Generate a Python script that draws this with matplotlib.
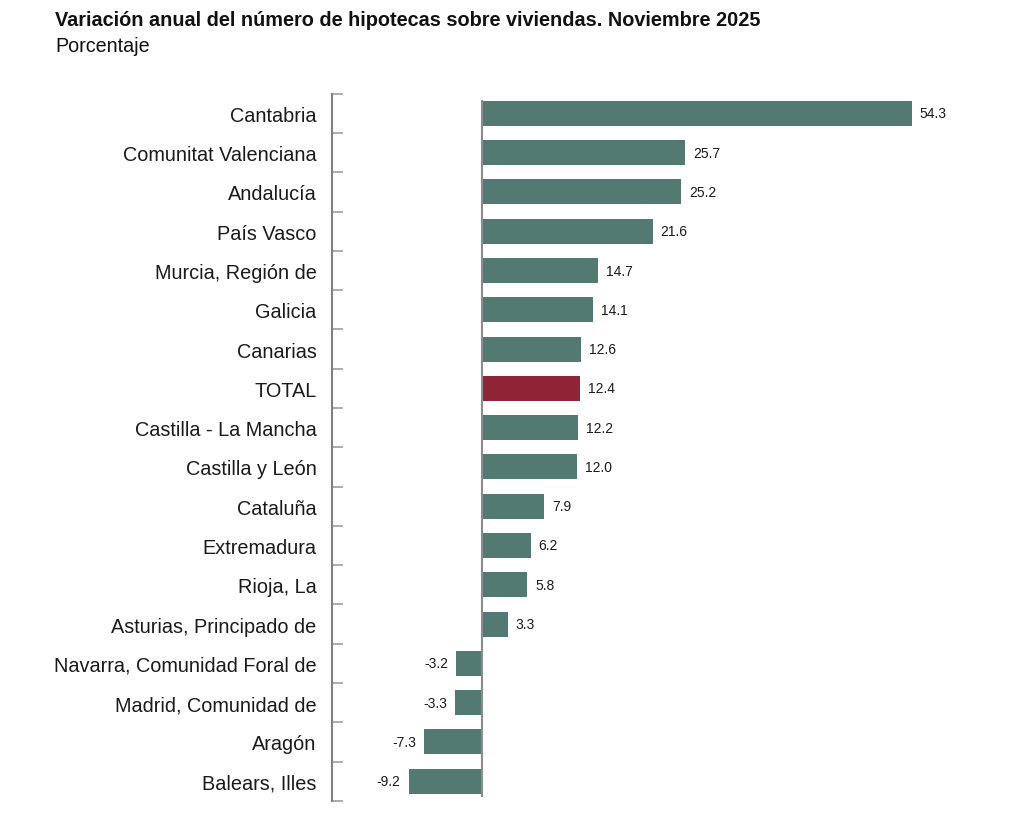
import matplotlib
matplotlib.use("Agg")
import matplotlib.pyplot as plt
import numpy as np

plt.rcParams['font.family'] = ['Liberation Sans', 'DejaVu Sans']

categories = ["Cantabria", "Comunitat Valenciana", "Andalucía", "País Vasco",
              "Murcia, Región de", "Galicia", "Canarias", "TOTAL",
              "Castilla - La Mancha", "Castilla y León", "Cataluña",
              "Extremadura", "Rioja, La", "Asturias, Principado de",
              "Navarra, Comunidad Foral de", "Madrid, Comunidad de",
              "Aragón", "Balears, Illes"]
values = [54.3, 25.7, 25.2, 21.6, 14.7, 14.1, 12.6, 12.4, 12.2, 12.0,
          7.9, 6.2, 5.8, 3.3, -3.2, -3.3, -7.3, -9.2]

title = "Variación anual del número de hipotecas sobre viviendas. Noviembre 2025"
subtitle = "Porcentaje"

green = "#527a72"
red = "#8e2436"

fig = plt.figure(figsize=(10.24, 8.28), dpi=100)
ax = fig.add_axes([0.324, 0.0316, 0.626, 0.854])

y = np.arange(len(categories))
colors = [red if c == "TOTAL" else green for c in categories]
ax.barh(y, values, height=0.636, color=colors, edgecolor="none", zorder=2)

ax.set_xlim(-18.9, 62)
ax.set_ylim(len(categories) - 0.5, -0.5)

# zero line
ax.axvline(0, color="#8c8c8c", lw=1.5, zorder=3, ymin=0.007, ymax=0.99)

for yi, v in zip(y, values):
    if v >= 0:
        ax.text(v + 1.0, yi, f"{v:.1f}", va="center", ha="left", fontsize=10, color="#1a1a1a")
    else:
        ax.text(v - 1.0, yi, f"{v:.1f}", va="center", ha="right", fontsize=10, color="#1a1a1a")

for s in ["top", "right", "bottom"]:
    ax.spines[s].set_visible(False)
ax.spines["left"].set_color("#808080")
ax.spines["left"].set_linewidth(1.5)

ax.set_xticks([])
ax.set_yticks(y)
ax.set_yticklabels(categories, fontsize=14.3, color="#1a1a1a")
ax.tick_params(axis="y", length=0, pad=11)
ax.set_yticks(np.arange(-0.5, len(categories), 1.0), minor=True)
ax.tick_params(axis="y", which="minor", direction="in", length=8, color="#a0a0a0", width=1.2)

fig.text(55 / 1024, 1 - 20 / 828, title, fontsize=14.35, fontweight="bold", va="center", ha="left", color="#111111")
fig.text(55 / 1024, 1 - 46 / 828, subtitle, fontsize=14.2, va="center", ha="left", color="#111111")

fig.savefig("out.png", dpi=100, facecolor="white")
